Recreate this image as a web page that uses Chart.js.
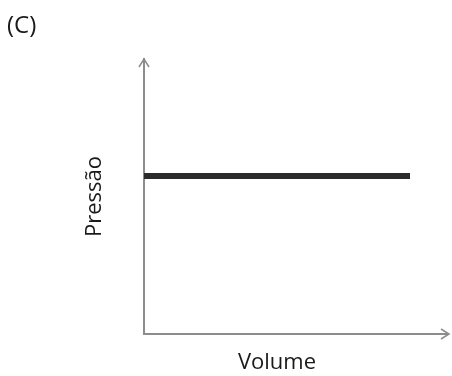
<!DOCTYPE html>
<html lang="pt-BR">
<head>
  <meta charset="UTF-8">
  <title>Pressão x Volume (C)</title>
  <script src="https://cdn.jsdelivr.net/npm/chart.js@4.4.0/dist/chart.umd.min.js"></script>
  <style>
    html, body { margin: 0; padding: 0; background: #fff; }
    #wrap { width: 452px; height: 376px; }
  </style>
</head>
<body>
  <div id="wrap"><canvas id="pvChart" width="452" height="376"></canvas></div>
  <script>
    // dados do gráfico (pressão constante)
    const volumes = [0, 10];
    const pressoes = [5.75, 5.75];
    const xRange = [0, 10];
    const yRange = [0, 10];

    const axisColor = "#8c8c8c";
    const textColor = "#1a1a1a";
    const fontFamily = "'Open Sans', sans-serif";

    // setas nas pontas dos eixos
    const axisArrows = {
      id: "axisArrows",
      afterDraw(chart) {
        const { ctx, chartArea: a } = chart;
        ctx.save();
        ctx.strokeStyle = axisColor;
        ctx.lineWidth = 2;
        // prolonga o eixo x até a seta
        ctx.beginPath();
        ctx.moveTo(a.right, a.bottom);
        ctx.lineTo(chart.width - 3, a.bottom);
        ctx.stroke();
        ctx.lineWidth = 1.5;
        ctx.beginPath();
        ctx.moveTo(a.left - 5, a.top + 8);
        ctx.lineTo(a.left, a.top);
        ctx.lineTo(a.left + 5, a.top + 8);
        ctx.moveTo(chart.width - 11, a.bottom - 5);
        ctx.lineTo(chart.width - 3, a.bottom);
        ctx.lineTo(chart.width - 11, a.bottom + 5);
        ctx.stroke();
        ctx.restore();
      }
    };

    new Chart(document.getElementById("pvChart").getContext("2d"), {
      type: "line",
      data: {
        labels: volumes,
        datasets: [{
          data: volumes.map((v, i) => ({ x: v, y: pressoes[i] })),
          borderColor: "#2b2b2b",
          borderWidth: 6,
          pointRadius: 0,
          borderCapStyle: "butt",
          fill: false
        }]
      },
      options: {
        responsive: false,
        animation: false,
        layout: { padding: { left: 7, right: 42, top: 0, bottom: 0 } },
        plugins: {
          legend: { display: false },
          tooltip: { enabled: false },
          title: {
            display: true,
            text: "(C)",
            align: "start",
            color: textColor,
            font: { family: fontFamily, size: 24, weight: "normal" },
            padding: { top: 11.6, bottom: 18.6 }
          }
        },
        scales: {
          x: {
            type: "linear",
            min: xRange[0],
            max: xRange[1],
            grid: { display: false, drawTicks: false },
            border: { display: true, color: axisColor, width: 2 },
            ticks: { display: false },
            title: {
              display: true,
              text: "Volume",
              color: textColor,
              font: { family: fontFamily, size: 22 },
              padding: { top: 15.6, bottom: 0 }
            }
          },
          y: {
            type: "linear",
            min: yRange[0],
            max: yRange[1],
            grid: { display: false, drawTicks: false },
            border: { display: true, color: axisColor, width: 2 },
            ticks: { display: false },
            title: {
              display: true,
              text: "Pressão",
              color: textColor,
              font: { family: fontFamily, size: 22 },
              padding: { top: 74.8, bottom: 35.8 }
            }
          }
        }
      },
      plugins: [axisArrows]
    });
  </script>
</body>
</html>
